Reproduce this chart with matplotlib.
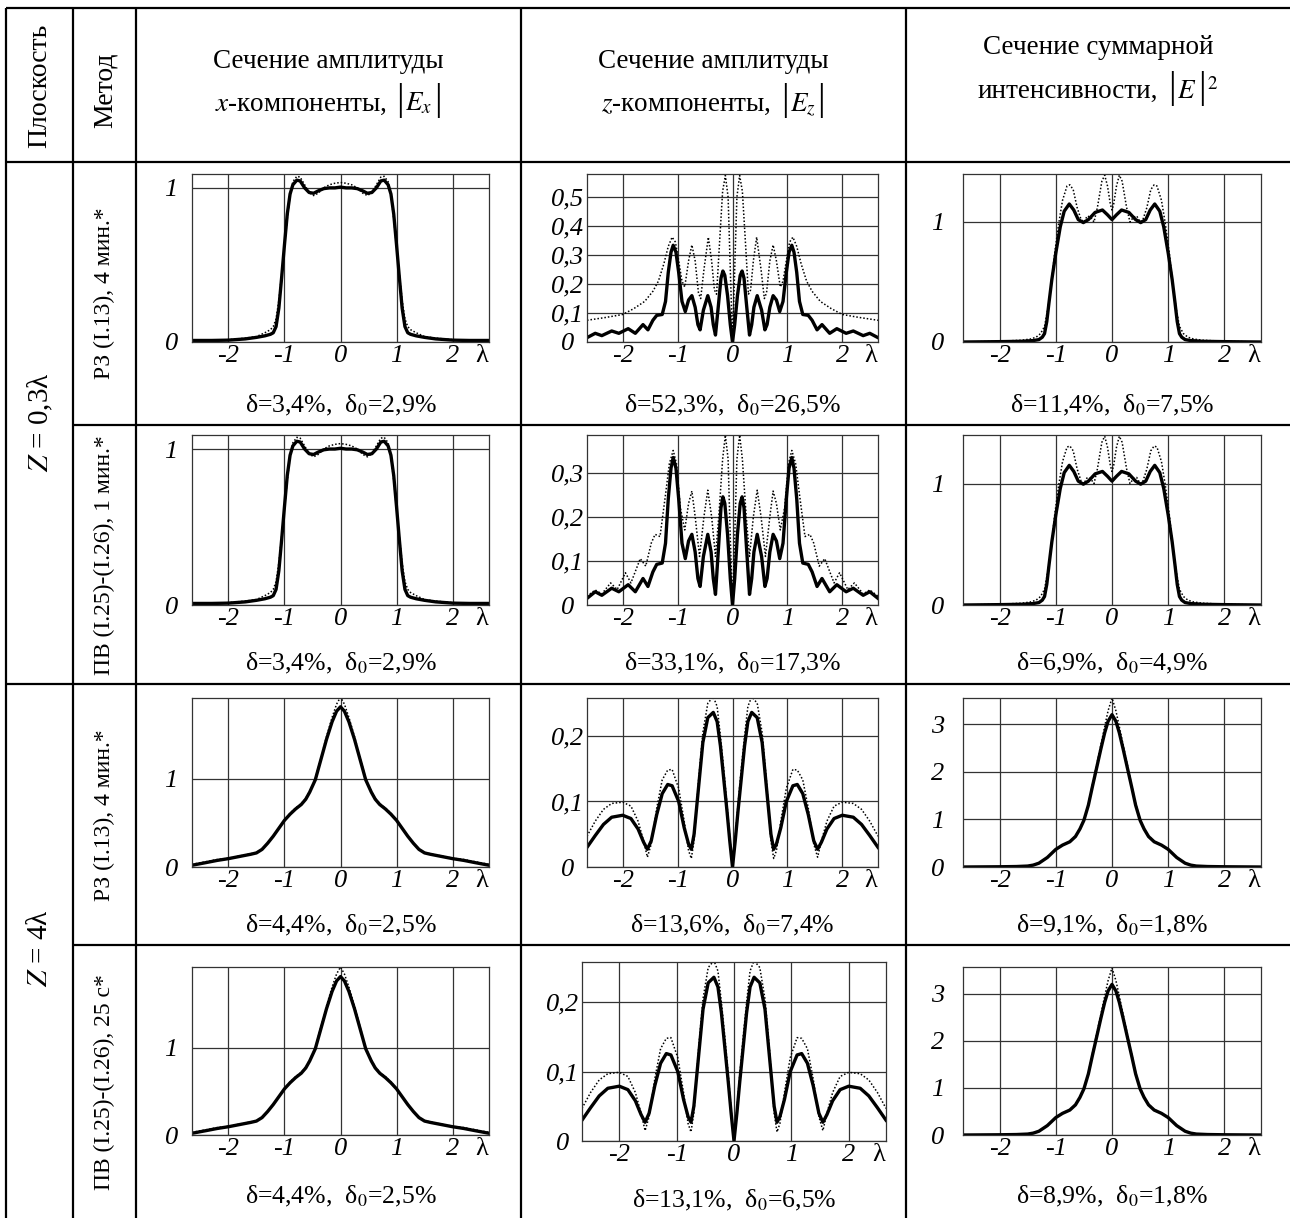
import matplotlib.pyplot as plt
from matplotlib.offsetbox import TextArea, HPacker, AnnotationBbox

plt.rcParams['font.family'] = ['Liberation Serif', 'DejaVu Sans']
plt.rcParams['mathtext.fontset'] = 'stix'

# ---- данные (x в длинах волн) ----
# |Ex|, Z = 0,3λ
ex03_x = [-2.65, -2.3, -2.0, -1.7, -1.5, -1.35, -1.25, -1.2, -1.15, -1.1, -1.05, -1.0, -0.95, -0.9, -0.85, -0.78,
          -0.72, -0.64, -0.56, -0.48, -0.4, -0.3, -0.2, -0.1, 0.0, 0.1, 0.2, 0.3, 0.4, 0.48, 0.56, 0.64, 0.72,
          0.78, 0.85, 0.9, 0.95, 1.0, 1.05, 1.1, 1.15, 1.2, 1.25, 1.35, 1.5, 1.7, 2.0, 2.3, 2.65]
ex03_sol = [0.01, 0.01, 0.012, 0.02, 0.03, 0.04, 0.05, 0.06, 0.1, 0.22, 0.42, 0.63, 0.83, 0.96, 1.02, 1.05,
            1.045, 1.0, 0.97, 0.965, 0.98, 0.995, 1.0, 1.0, 1.005, 1.0, 1.0, 0.995, 0.98, 0.965, 0.97, 1.0, 1.045,
            1.05, 1.02, 0.96, 0.83, 0.63, 0.42, 0.22, 0.1, 0.06, 0.05, 0.04, 0.03, 0.02, 0.012, 0.01, 0.01]
ex03_dot = [0.01, 0.012, 0.015, 0.025, 0.035, 0.06, 0.08, 0.1, 0.15, 0.27, 0.44, 0.62, 0.8, 0.95, 1.04, 1.075,
            1.07, 1.02, 0.97, 0.95, 0.965, 1.0, 1.02, 1.03, 1.035, 1.03, 1.02, 1.0, 0.965, 0.95, 0.97, 1.02, 1.07,
            1.075, 1.04, 0.95, 0.8, 0.62, 0.44, 0.27, 0.15, 0.1, 0.08, 0.06, 0.035, 0.025, 0.015, 0.012, 0.01]

# |Ez|, Z = 0,3λ (сплошная — одинакова в обеих строках)
ez03_x = [-2.65, -2.5, -2.38, -2.2, -2.07, -1.9, -1.77, -1.63, -1.54, -1.45, -1.38, -1.28, -1.22, -1.17, -1.12,
          -1.08, -1.03, -0.98, -0.92, -0.86, -0.8, -0.74, -0.68, -0.63, -0.59, -0.53, -0.45, -0.39, -0.35, -0.31,
          -0.26, -0.21, -0.175, -0.14, -0.09, -0.04, 0.0, 0.04, 0.09, 0.14, 0.175, 0.21, 0.26, 0.31, 0.35, 0.39,
          0.45, 0.53, 0.59, 0.63, 0.68, 0.74, 0.8, 0.86, 0.92, 0.98, 1.03, 1.08, 1.12, 1.17, 1.22, 1.28, 1.38,
          1.45, 1.54, 1.63, 1.77, 1.9, 2.07, 2.2, 2.38, 2.5, 2.65]
ez03_sol = [0.015, 0.03, 0.022, 0.038, 0.03, 0.046, 0.03, 0.06, 0.042, 0.075, 0.092, 0.095, 0.14, 0.24, 0.31,
            0.334, 0.31, 0.24, 0.14, 0.105, 0.145, 0.16, 0.12, 0.06, 0.042, 0.11, 0.16, 0.12, 0.06, 0.024,
            0.12, 0.22, 0.245, 0.23, 0.16, 0.06, 0.0, 0.06, 0.16, 0.23, 0.245, 0.22, 0.12, 0.024, 0.06, 0.12,
            0.16, 0.11, 0.042, 0.06, 0.12, 0.16, 0.145, 0.105, 0.14, 0.24, 0.31, 0.334, 0.31, 0.24, 0.14, 0.095,
            0.092, 0.075, 0.042, 0.06, 0.03, 0.046, 0.03, 0.038, 0.022, 0.03, 0.015]
ez03a_x = [-2.65, -2.3, -2.0, -1.8, -1.6, -1.45, -1.35, -1.25, -1.17, -1.1, -1.04, -0.98, -0.92, -0.87, -0.8,
           -0.74, -0.68, -0.62, -0.58, -0.52, -0.44, -0.38, -0.33, -0.29, -0.24, -0.18, -0.13, -0.08, -0.04, 0.0,
           0.04, 0.08, 0.13, 0.18, 0.24, 0.29, 0.33, 0.38, 0.44, 0.52, 0.58, 0.62, 0.68, 0.74, 0.8, 0.87, 0.92,
           0.98, 1.04, 1.1, 1.17, 1.25, 1.35, 1.45, 1.6, 1.8, 2.0, 2.3, 2.65]
ez03a_dot = [0.075, 0.085, 0.095, 0.115, 0.14, 0.175, 0.21, 0.27, 0.33, 0.362, 0.345, 0.28, 0.21, 0.19, 0.28,
             0.335, 0.28, 0.17, 0.15, 0.25, 0.362, 0.28, 0.18, 0.165, 0.33, 0.52, 0.575, 0.5, 0.25, 0.0,
             0.25, 0.5, 0.575, 0.52, 0.33, 0.165, 0.18, 0.28, 0.362, 0.25, 0.15, 0.17, 0.28, 0.335, 0.28, 0.19,
             0.21, 0.28, 0.345, 0.362, 0.33, 0.27, 0.21, 0.175, 0.14, 0.115, 0.095, 0.085, 0.075]
ez03b_x = [-2.65, -2.5, -2.38, -2.22, -2.1, -1.95, -1.85, -1.68, -1.58, -1.48, -1.41, -1.32, -1.22, -1.15, -1.08,
           -1.02, -0.95, -0.87, -0.8, -0.74, -0.68, -0.6, -0.52, -0.45, -0.38, -0.31, -0.25, -0.18, -0.13, -0.08,
           -0.04, 0.0, 0.04, 0.08, 0.13, 0.18, 0.25, 0.31, 0.38, 0.45, 0.52, 0.6, 0.68, 0.74, 0.8, 0.87, 0.95,
           1.02, 1.08, 1.15, 1.22, 1.32, 1.41, 1.48, 1.58, 1.68, 1.85, 1.95, 2.1, 2.22, 2.38, 2.5, 2.65]
ez03b_dot = [0.02, 0.034, 0.025, 0.05, 0.035, 0.073, 0.05, 0.105, 0.088, 0.14, 0.16, 0.155, 0.25, 0.32, 0.35,
             0.32, 0.22, 0.17, 0.23, 0.258, 0.2, 0.11, 0.2, 0.26, 0.2, 0.11, 0.2, 0.33, 0.385, 0.33, 0.15, 0.0,
             0.15, 0.33, 0.385, 0.33, 0.2, 0.11, 0.2, 0.26, 0.2, 0.11, 0.2, 0.258, 0.23, 0.17, 0.22, 0.32, 0.35,
             0.32, 0.25, 0.155, 0.16, 0.14, 0.088, 0.105, 0.05, 0.073, 0.035, 0.05, 0.025, 0.034, 0.02]

# |E|^2, Z = 0,3λ
i03s_x = [-2.65, -2.0, -1.6, -1.4, -1.3, -1.24, -1.2, -1.16, -1.12, -1.07, -1.0, -0.92, -0.85, -0.76, -0.68,
          -0.6, -0.51, -0.42, -0.3, -0.17, -0.08, 0.0, 0.08, 0.17, 0.3, 0.42, 0.51, 0.6, 0.68, 0.76, 0.85, 0.92,
          1.0, 1.07, 1.12, 1.16, 1.2, 1.24, 1.3, 1.4, 1.6, 2.0, 2.65]
i03_sol = [0.0, 0.003, 0.006, 0.012, 0.02, 0.04, 0.07, 0.17, 0.33, 0.52, 0.74, 0.96, 1.09, 1.15, 1.1, 1.02,
           0.995, 1.02, 1.08, 1.1, 1.06, 1.02, 1.06, 1.1, 1.08, 1.02, 0.995, 1.02, 1.1, 1.15, 1.09, 0.96, 0.74,
           0.52, 0.33, 0.17, 0.07, 0.04, 0.02, 0.012, 0.006, 0.003, 0.0]
i03d_x = [-2.65, -2.0, -1.6, -1.45, -1.35, -1.27, -1.2, -1.14, -1.08, -1.02, -0.95, -0.88, -0.8, -0.75, -0.69,
          -0.62, -0.55, -0.5, -0.44, -0.38, -0.32, -0.26, -0.18, -0.13, -0.08, -0.03, 0.0, 0.03, 0.08, 0.13, 0.18,
          0.26, 0.32, 0.38, 0.44, 0.5, 0.55, 0.62, 0.69, 0.75, 0.8, 0.88, 0.95, 1.02, 1.08, 1.14, 1.2, 1.27, 1.35,
          1.45, 1.6, 2.0, 2.65]
i03_dot = [0.0, 0.006, 0.015, 0.025, 0.04, 0.07, 0.13, 0.28, 0.48, 0.74, 0.98, 1.18, 1.3, 1.31, 1.27, 1.12, 1.02,
           1.0, 1.05, 1.04, 1.0, 1.12, 1.34, 1.39, 1.3, 1.15, 1.1, 1.15, 1.3, 1.39, 1.34, 1.12, 1.0, 1.04, 1.05,
           1.0, 1.02, 1.12, 1.27, 1.31, 1.3, 1.18, 0.98, 0.74, 0.48, 0.28, 0.13, 0.07, 0.04, 0.025, 0.015, 0.006,
           0.0]

# |Ex|, Z = 4λ
ex4_x = [-2.65, -2.4, -2.2, -2.0, -1.8, -1.6, -1.5, -1.4, -1.3, -1.2, -1.1, -1.0, -0.9, -0.8, -0.7, -0.62, -0.55,
         -0.45, -0.35, -0.25, -0.15, -0.07, 0.0, 0.07, 0.15, 0.25, 0.35, 0.45, 0.55, 0.62, 0.7, 0.8, 0.9, 1.0, 1.1,
         1.2, 1.3, 1.4, 1.5, 1.6, 1.8, 2.0, 2.2, 2.4, 2.65]
ex4_sol = [0.02, 0.05, 0.075, 0.095, 0.12, 0.145, 0.16, 0.2, 0.27, 0.35, 0.44, 0.53, 0.6, 0.66, 0.71, 0.77, 0.85,
           0.99, 1.22, 1.45, 1.65, 1.77, 1.82, 1.77, 1.65, 1.45, 1.22, 0.99, 0.85, 0.77, 0.71, 0.66, 0.6, 0.53,
           0.44, 0.35, 0.27, 0.2, 0.16, 0.145, 0.12, 0.095, 0.075, 0.05, 0.02]
ex4_dot = [0.03, 0.06, 0.085, 0.1, 0.125, 0.15, 0.165, 0.2, 0.27, 0.35, 0.44, 0.53, 0.61, 0.67, 0.72, 0.78, 0.86,
           1.0, 1.24, 1.48, 1.7, 1.85, 1.93, 1.85, 1.7, 1.48, 1.24, 1.0, 0.86, 0.78, 0.72, 0.67, 0.61, 0.53, 0.44,
           0.35, 0.27, 0.2, 0.165, 0.15, 0.125, 0.1, 0.085, 0.06, 0.03]

# |Ez|, Z = 4λ
ez4_x = [-2.65, -2.5, -2.35, -2.2, -2.0, -1.85, -1.72, -1.62, -1.55, -1.48, -1.38, -1.28, -1.18, -1.1, -0.98, -0.88,
         -0.8, -0.75, -0.7, -0.62, -0.54, -0.45, -0.35, -0.28, -0.22, -0.16, -0.1, -0.05, 0.0, 0.05, 0.1, 0.16,
         0.22, 0.28, 0.35, 0.45, 0.54, 0.62, 0.7, 0.75, 0.8, 0.88, 0.98, 1.1, 1.18, 1.28, 1.38, 1.48, 1.55, 1.62,
         1.72, 1.85, 2.0, 2.2, 2.35, 2.5, 2.65]
ez4_sol = [0.03, 0.048, 0.065, 0.076, 0.079, 0.074, 0.058, 0.038, 0.027, 0.04, 0.08, 0.112, 0.126, 0.124, 0.1,
           0.06, 0.035, 0.027, 0.05, 0.12, 0.19, 0.228, 0.236, 0.222, 0.185, 0.135, 0.085, 0.04, 0.0, 0.04, 0.085,
           0.135, 0.185, 0.222, 0.236, 0.228, 0.19, 0.12, 0.05, 0.027, 0.035, 0.06, 0.1, 0.124, 0.126, 0.112,
           0.08, 0.04, 0.027, 0.038, 0.058, 0.074, 0.079, 0.076, 0.065, 0.048, 0.03]
ez4_dot = [0.047, 0.07, 0.088, 0.097, 0.099, 0.093, 0.07, 0.04, 0.015, 0.035, 0.09, 0.133, 0.148, 0.149, 0.12,
           0.07, 0.025, 0.013, 0.04, 0.13, 0.205, 0.25, 0.26, 0.245, 0.2, 0.15, 0.095, 0.045, 0.0, 0.045, 0.095,
           0.15, 0.2, 0.245, 0.26, 0.25, 0.205, 0.13, 0.04, 0.013, 0.025, 0.07, 0.12, 0.149, 0.148, 0.133, 0.09,
           0.035, 0.015, 0.04, 0.07, 0.093, 0.099, 0.097, 0.088, 0.07, 0.047]

# |E|^2, Z = 4λ
i4_x = [-2.65, -2.0, -1.7, -1.5, -1.4, -1.3, -1.15, -1.0, -0.88, -0.75, -0.65, -0.57, -0.5, -0.42, -0.35, -0.27,
        -0.2, -0.13, -0.07, 0.0, 0.07, 0.13, 0.2, 0.27, 0.35, 0.42, 0.5, 0.57, 0.65, 0.75, 0.88, 1.0, 1.15, 1.3,
        1.4, 1.5, 1.7, 2.0, 2.65]
i4_sol = [0.0, 0.005, 0.01, 0.02, 0.04, 0.08, 0.2, 0.37, 0.46, 0.53, 0.64, 0.8, 0.98, 1.3, 1.68, 2.1, 2.47, 2.82,
          3.06, 3.2, 3.06, 2.82, 2.47, 2.1, 1.68, 1.3, 0.98, 0.8, 0.64, 0.53, 0.46, 0.37, 0.2, 0.08, 0.04, 0.02,
          0.01, 0.005, 0.0]
i4_dot = [0.0, 0.006, 0.012, 0.022, 0.045, 0.085, 0.2, 0.37, 0.46, 0.54, 0.65, 0.81, 1.0, 1.33, 1.72, 2.16, 2.55,
          2.95, 3.28, 3.55, 3.28, 2.95, 2.55, 2.16, 1.72, 1.33, 1.0, 0.81, 0.65, 0.54, 0.46, 0.37, 0.2, 0.085,
          0.045, 0.022, 0.012, 0.006, 0.0]

x_ticks = [-2, -1, 0, 1, 2]
x_ticklabels = ['-2', '-1', '0', '1', '2']

deltas = [["δ=3,4%,  δ$_0$=2,9%", "δ=52,3%,  δ$_0$=26,5%", "δ=11,4%,  δ$_0$=7,5%"],
          ["δ=3,4%,  δ$_0$=2,9%", "δ=33,1%,  δ$_0$=17,3%", "δ=6,9%,  δ$_0$=4,9%"],
          ["δ=4,4%,  δ$_0$=2,5%", "δ=13,6%,  δ$_0$=7,4%", "δ=9,1%,  δ$_0$=1,8%"],
          ["δ=4,4%,  δ$_0$=2,5%", "δ=13,1%,  δ$_0$=6,5%", "δ=8,9%,  δ$_0$=1,8%"]]
methods = ["РЗ (I.13), 4 мин.*", "ПВ (I.25)-(I.26), 1 мин.*",
           "РЗ (I.13), 4 мин.*", "ПВ (I.25)-(I.26), 25 с*"]

# ---- рисунок ----
W, H = 1290, 1218
HF = 19.5   # шрифт шапки
TF = 19     # шрифт подписей делений
fig = plt.figure(figsize=(W / 100, H / 100), dpi=100)
tab = fig.add_axes([0, 0, 1, 1])
tab.set_xlim(0, W)
tab.set_ylim(H, 0)
tab.axis('off')

# линии таблицы
for y, x0 in [(8, 6), (162, 6), (425, 73), (684, 6), (945, 73)]:
    tab.plot([x0, W], [y, y], color='black', lw=1.6, solid_capstyle='butt')
for x in [6, 73, 136, 521, 906]:
    tab.plot([x, x], [8, H], color='black', lw=1.6, solid_capstyle='butt')


def header_line(xc, yc, text, inner):
    # строка шапки: текст + модуль с высокими скобками
    lead = TextArea(text, textprops=dict(fontsize=HF))
    mod = HPacker(children=[TextArea(s, textprops=dict(fontsize=fs)) for s, fs in inner],
                  align='baseline', pad=0, sep=1)
    pack = HPacker(children=[lead, mod], align='baseline', pad=0, sep=7)
    tab.add_artist(AnnotationBbox(pack, (xc, yc), xycoords='data', frameon=False,
                                  box_alignment=(0.5, 0.5)))


# шапка
tab.text(40, 86, "Плоскость", rotation=90, ha='center', va='center', fontsize=20)
tab.text(105, 90, "Метод", rotation=90, ha='center', va='center', fontsize=20)
tab.text(328, 62, "Сечение амплитуды", ha='center', va='center', fontsize=HF)
header_line(328, 101, r"$x$-компоненты,", [("|", 27), (r"$E_x$", HF), ("|", 27)])
tab.text(713, 62, "Сечение амплитуды", ha='center', va='center', fontsize=HF)
header_line(713, 101, r"$z$-компоненты,", [("|", 27), (r"$E_z$", HF), ("|", 27)])
tab.text(1098, 47, "Сечение суммарной", ha='center', va='center', fontsize=HF)
header_line(1098, 88, "интенсивности,", [("|", 27), (r"$E$", HF), ("|", 27), (r"$^2$", HF)])

tab.text(40, 422, r"$Z$ = 0,3λ", rotation=90, ha='center', va='center', fontsize=21)
tab.text(40, 948, r"$Z$ = 4λ", rotation=90, ha='center', va='center', fontsize=21)
for m, yc in zip(methods, [293, 555, 815, 1082]):
    tab.text(104, yc, m, rotation=90, ha='center', va='center', fontsize=17)


def panel(rect, xs, ys, xd, yd, ymax, yticks, ylabels, ypad, delta, dy):
    l, r, t, b = rect
    ax = fig.add_axes([l / W, 1 - b / H, (r - l) / W, (b - t) / H])
    ax.plot(xd, yd, color='black', lw=1.1, ls=(0, (1, 1.3)))
    ax.plot(xs, ys, color='black', lw=2.4, solid_joinstyle='round')
    ax.set_xlim(-2.65, 2.65)
    ax.set_ylim(0, ymax)
    ax.set_xticks(x_ticks)
    ax.set_xticklabels(x_ticklabels)
    ax.set_yticks(yticks)
    ax.set_yticklabels(ylabels)
    ax.tick_params(length=0, labelsize=TF)
    ax.tick_params(axis='x', pad=2)
    ax.tick_params(axis='y', pad=ypad)
    for lab in ax.get_xticklabels() + ax.get_yticklabels():
        lab.set_fontstyle('italic')
    for lab in ax.get_yticklabels():
        lab.set_horizontalalignment('center')
    ax.grid(True, color='#333333', lw=0.9)
    for s in ax.spines.values():
        s.set_color('#333333')
        s.set_linewidth(0.9)
    ax.annotate('λ', xy=(2.52, 0), xycoords=('data', 'axes fraction'), xytext=(0, -2),
                textcoords='offset points', ha='center', va='top', fontsize=TF)
    tab.text((l + r) / 2, dy, delta, ha='center', va='center', fontsize=18.5)
    return ax


rows = [(174, 342), (435, 605), (698, 867), (967, 1135)]
dys = [405, 663, 925, 1196]
ex_cols = (192, 489)
ez_cols = (587, 878)
i_cols = (963, 1261)

# строка 1: Z = 0,3λ, РЗ
t, b = rows[0]
panel((*ex_cols, t, b), ex03_x, ex03_sol, ex03_x, ex03_dot, 1.09, [0, 1], ['0', '1'], 15, deltas[0][0], dys[0])
panel((*ez_cols, t, b), ez03_x, ez03_sol, ez03a_x, ez03a_dot, 0.58, [0, 0.1, 0.2, 0.3, 0.4, 0.5],
      ['0', '0,1', '0,2', '0,3', '0,4', '0,5'], 14, deltas[0][1], dys[0])
panel((*i_cols, t, b), i03s_x, i03_sol, i03d_x, i03_dot, 1.4, [0, 1], ['0', '1'], 18, deltas[0][2], dys[0])

# строка 2: Z = 0,3λ, ПВ
t, b = rows[1]
panel((*ex_cols, t, b), ex03_x, ex03_sol, ex03_x, ex03_dot, 1.09, [0, 1], ['0', '1'], 15, deltas[1][0], dys[1])
panel((*ez_cols, t, b), ez03_x, ez03_sol, ez03b_x, ez03b_dot, 0.385, [0, 0.1, 0.2, 0.3],
      ['0', '0,1', '0,2', '0,3'], 14, deltas[1][1], dys[1])
panel((*i_cols, t, b), i03s_x, i03_sol, i03d_x, i03_dot, 1.4, [0, 1], ['0', '1'], 18, deltas[1][2], dys[1])

# строка 3: Z = 4λ, РЗ
t, b = rows[2]
panel((*ex_cols, t, b), ex4_x, ex4_sol, ex4_x, ex4_dot, 1.92, [0, 1], ['0', '1'], 15, deltas[2][0], dys[2])
panel((*ez_cols, t, b), ez4_x, ez4_sol, ez4_x, ez4_dot, 0.258, [0, 0.1, 0.2], ['0', '0,1', '0,2'], 14,
      deltas[2][1], dys[2])
panel((*i_cols, t, b), i4_x, i4_sol, i4_x, i4_dot, 3.55, [0, 1, 2, 3], ['0', '1', '2', '3'], 18,
      deltas[2][2], dys[2])

# строка 4: Z = 4λ, ПВ
t, b = rows[3]
panel((*ex_cols, t, b), ex4_x, ex4_sol, ex4_x, ex4_dot, 1.93, [0, 1], ['0', '1'], 15, deltas[3][0], dys[3])
panel((582, 886, 962, 1141), ez4_x, ez4_sol, ez4_x, ez4_dot, 0.258, [0, 0.1, 0.2], ['0', '0,1', '0,2'], 14,
      deltas[3][1], 1200)
panel((*i_cols, t, b), i4_x, i4_sol, i4_x, i4_dot, 3.57, [0, 1, 2, 3], ['0', '1', '2', '3'], 18,
      deltas[3][2], dys[3])

fig.savefig('out.png', dpi=100)
